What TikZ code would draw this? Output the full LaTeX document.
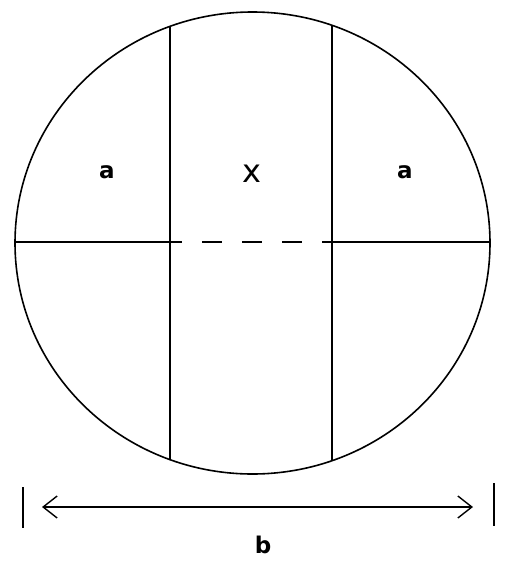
\documentclass[tikz,border=0pt]{standalone}
\usepackage{fontspec}
\setmainfont{DejaVu Sans}
\usetikzlibrary{arrows.meta}
\begin{document}
\begin{tikzpicture}[x=1pt,y=-1pt,
  ln/.style={line width=1.6pt,black},
  lbl/.style={font=\fontsize{23}{25}\selectfont\bfseries,inner sep=0pt},
  xlbl/.style={font=\fontsize{32}{34}\selectfont,inner sep=0pt},
  dim/.style={line width=1.6pt,{Straight Barb[length=14pt,width=22pt,line width=1.4pt]}-{Straight Barb[length=14pt,width=22pt,line width=1.4pt]}}]
\useasboundingbox (0,0) rectangle (508,565);
\draw[ln] (252.5,243) ellipse [x radius=237.5pt, y radius=231pt];
% chords
\coordinate (L1t) at (170,26.4);
\coordinate (L1b) at (170,459.6);
\coordinate (L2t) at (332,25.3);
\coordinate (L2b) at (332,460.7);
\coordinate (Hl) at (15,242);
\coordinate (Hr) at (490,242);
\coordinate (Ml) at (170,242);
\coordinate (Mr) at (332,242);
\draw[ln] (L1t) -- (L1b);
\draw[ln] (L2t) -- (L2b);
\draw[ln] (Hl) -- (Ml);
\draw[ln] (Mr) -- (Hr);
\draw[ln,dash pattern=on 20pt off 20pt,dash phase=8pt] (Ml) -- (Mr);
% labels
\node[lbl] (a1) at (107,172) {a};
\node[xlbl,anchor=base] (x) at (252,182) {x};
\node[lbl] (a2) at (405,172) {a};
% dimension
\coordinate (t1a) at (23,487);
\coordinate (t1b) at (23,528);
\coordinate (t2a) at (494,483);
\coordinate (t2b) at (494,526);
\draw[ln] (t1a) -- (t1b);
\draw[ln] (t2a) -- (t2b);
\coordinate (d1) at (42,507);
\coordinate (d2) at (473,507);
\draw[dim] (d1) -- (d2);
\node[lbl] (b) at (263,545) {b};
\end{tikzpicture}
\end{document}
